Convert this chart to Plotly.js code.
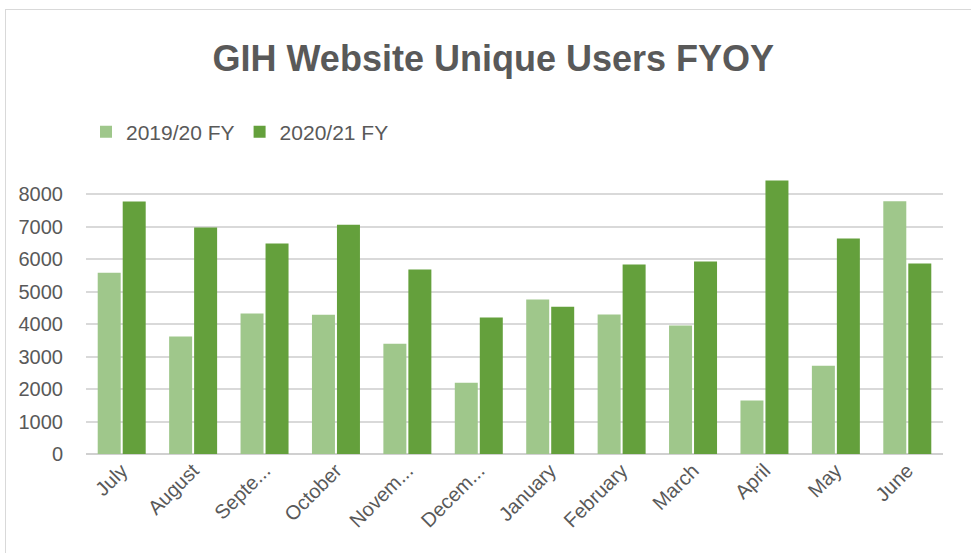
<!DOCTYPE html>
<html>
<head>
<meta charset="utf-8">
<script src="https://cdn.plot.ly/plotly-3.0.1.min.js"></script>
<style>
  html, body { margin: 0; padding: 0; background: #fff; }
  #wrap { position: relative; width: 971px; height: 553px; overflow: hidden; }
  #chart { width: 971px; height: 553px; }
  #frame { position: absolute; left: 5px; top: 9px; width: 1000px; height: 600px;
           border: 1px solid #d9d9d9; pointer-events: none; }
</style>
</head>
<body>
<div id="wrap">
  <div id="chart"></div>
  <div id="frame"></div>
</div>
<script>
const months = ["July", "August", "Septe...", "October", "Novem...", "Decem...",
                "January", "February", "March", "April", "May", "June"];
const fy1920 = [5590, 3620, 4330, 4290, 3400, 2200, 4760, 4300, 3960, 1650, 2720, 7790];
const fy2021 = [7780, 6980, 6490, 7070, 5690, 4210, 4540, 5840, 5930, 8430, 6640, 5870];
const seriesNames = ["2019/20 FY", "2020/21 FY"];
const yTicks = [0, 1000, 2000, 3000, 4000, 5000, 6000, 7000, 8000];

const font = "Liberation Sans, Arial, sans-serif";
const textColor = "#595959";

const data = [
  { type: "bar", name: seriesNames[0], x: months, y: fy1920,
    marker: { color: "#9fc78b" }, hoverinfo: "x+y+name" },
  { type: "bar", name: seriesNames[1], x: months, y: fy2021,
    marker: { color: "#64a03c" }, hoverinfo: "x+y+name" }
];

const layout = {
  width: 971, height: 553,
  paper_bgcolor: "#ffffff", plot_bgcolor: "#ffffff",
  margin: { l: 86, r: 28, t: 175, b: 99 },
  barmode: "group", bargap: 0.3, bargroupgap: 0.08,
  title: { text: "<b>GIH Website Unique Users FYOY</b>",
           font: { family: font, size: 36, color: textColor },
           x: 0.508, xanchor: "center", y: 0.895, yanchor: "middle" },
  showlegend: true,
  legend: { orientation: "h", x: 0.0, xanchor: "left", y: 1.154, yanchor: "middle",
            font: { family: font, size: 21, color: textColor },
            traceorder: "normal", itemwidth: 30, bgcolor: "rgba(0,0,0,0)" },
  xaxis: { type: "category", tickangle: -45, showgrid: false, zeroline: false,
           showline: false, ticks: "",
           tickfont: { family: font, size: 20, color: textColor } },
  yaxis: { range: [0, 8600], tickvals: yTicks, ticktext: yTicks.map(String),
           showgrid: true, gridcolor: "#d9d9d9", gridwidth: 1.5,
           zeroline: true, zerolinecolor: "#d0d0d0", zerolinewidth: 2,
           showline: false, ticks: "", ticklabelstandoff: 22,
           tickfont: { family: font, size: 20, color: textColor } }
};

Plotly.newPlot("chart", data, layout, { displayModeBar: false });
</script>
</body>
</html>
